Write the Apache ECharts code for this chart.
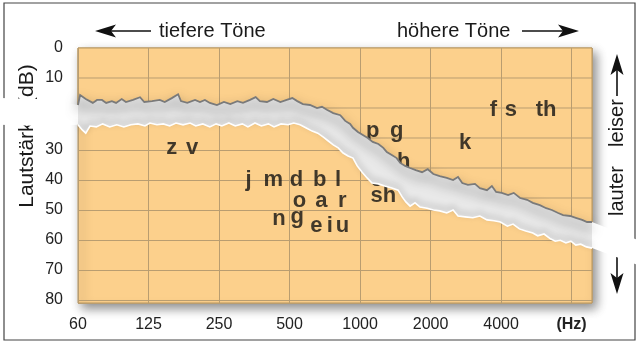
<!DOCTYPE html>
<html><head><meta charset="utf-8">
<script src="https://cdn.jsdelivr.net/npm/echarts@6/dist/echarts.min.js"></script>
<style>html,body{margin:0;padding:0;background:#fff}#c{width:640px;height:349px}</style>
</head><body><div id="c"></div>
<script>
const FONT = '"Liberation Sans", Arial, Helvetica, sans-serif';

// x axis: octave index (0 = 60 Hz, 1 = 125 Hz, ...)
const freqLabels = ['60', '125', '250', '500', '1000', '2000', '4000', '(Hz)'];
// y axis tick labels (dB, 0 at top)
const dbLabels = ['0', '10', '20', '30', '40', '50', '60', '70', '80'];

// The sheet is torn: the upper piece sits slightly higher than the lower piece.
// Upper edge of the tear (upper-piece scale)  [octave, dB]
const bandUpper = [[-1.11,16.7],[-0.54,17.0],[0,19.0],[0.03,15.7],[0.11,17.0],[0.21,18.3],[0.27,17.3],[0.34,17.3],[0.40,18.3],[0.48,17.7],[0.54,18.3],[0.62,17.0],[0.68,18.0],[0.78,17.3],[0.88,16.4],[0.94,18.0],[1.05,17.7],[1.16,17.3],[1.23,18.0],[1.33,16.7],[1.42,15.4],[1.46,17.7],[1.55,18.3],[1.66,17.3],[1.73,18.0],[1.80,17.3],[1.87,18.3],[1.97,19.0],[2.07,18.0],[2.16,18.7],[2.26,17.7],[2.34,18.3],[2.44,17.3],[2.52,16.4],[2.58,17.7],[2.68,18.0],[2.77,17.0],[2.87,18.0],[2.96,17.3],[3.04,16.7],[3.11,17.7],[3.19,18.7],[3.29,19.0],[3.39,20.0],[3.46,19.6],[3.53,20.6],[3.62,21.7],[3.72,22.4],[3.79,24.3],[3.86,25.3],[3.90,26.6],[3.97,28.0],[4.04,29.0],[4.11,30.0],[4.18,31.3],[4.26,32.0],[4.33,33.3],[4.38,34.7],[4.45,35.7],[4.52,36.7],[4.57,38.3],[4.64,39.3],[4.71,40.0],[4.79,40.7],[4.88,41.4],[4.96,40.4],[5.04,42.0],[5.13,42.7],[5.23,43.3],[5.32,44.0],[5.39,43.0],[5.45,45.0],[5.53,45.6],[5.63,45.3],[5.70,46.7],[5.80,47.4],[5.87,46.0],[5.93,48.0],[6.01,48.3],[6.10,49.0],[6.18,48.3],[6.27,50.0],[6.37,50.6],[6.45,51.6],[6.55,52.4],[6.64,53.4],[6.72,54.0],[6.81,55.0],[6.88,55.7],[6.98,56.0],[7.06,56.6],[7.15,57.3],[7.22,58.0],[7.29,58.0],[7.94,64.0]];

// Lower edge of the tear (same upper-piece scale)  [octave, dB]
const bandLower = [[-1.11,25.6],[-0.54,26.0],[0,25.6],[0.06,27.3],[0.11,28.4],[0.17,26.0],[0.26,26.3],[0.35,25.3],[0.45,26.3],[0.55,25.6],[0.65,26.3],[0.75,25.6],[0.85,25.3],[0.95,26.0],[1.02,25.0],[1.12,25.6],[1.21,25.3],[1.30,26.0],[1.39,25.0],[1.49,25.6],[1.59,25.0],[1.67,26.0],[1.77,25.3],[1.87,26.3],[1.96,25.3],[2.04,26.0],[2.14,25.0],[2.23,26.0],[2.33,25.3],[2.41,26.3],[2.51,25.0],[2.60,26.0],[2.70,25.3],[2.78,26.3],[2.88,25.3],[2.98,25.6],[3.06,25.0],[3.15,25.6],[3.23,26.6],[3.32,27.7],[3.40,28.4],[3.48,29.7],[3.55,31.0],[3.62,32.3],[3.69,33.3],[3.76,35.0],[3.83,36.0],[3.90,36.7],[3.96,39.3],[4.03,41.4],[4.10,43.3],[4.17,45.0],[4.26,45.3],[4.35,46.0],[4.45,46.7],[4.54,47.4],[4.60,49.7],[4.65,51.3],[4.71,52.7],[4.78,51.6],[4.85,53.0],[4.95,53.4],[5.04,54.0],[5.13,54.3],[5.23,55.0],[5.32,54.0],[5.39,56.0],[5.49,56.3],[5.60,56.6],[5.70,56.0],[5.80,57.3],[5.90,57.6],[5.99,58.0],[6.09,59.4],[6.17,58.7],[6.26,60.3],[6.35,61.0],[6.45,61.7],[6.52,62.6],[6.61,62.0],[6.70,63.6],[6.77,64.4],[6.84,64.1],[6.92,65.0],[6.99,64.4],[7.06,65.7],[7.13,65.4],[7.21,66.3],[7.29,66.7],[7.94,72.3]];

// speech sounds on the upper piece
const upperText = ['p', 'g', 'h', 'k', 'f', 's', 'th'];
const upperOct  = [4.18, 4.52, 4.62, 5.49, 5.89, 6.14, 6.64];
const upperDb   = [27.7, 27.7, 38.0, 31.7, 20.7, 20.7, 20.7];
// speech sounds on the lower piece
const lowerText = ['z','v','j','m','d','b','l','o','a','r','n','g','e','i','u','ch','sh'];
const lowerOct  = [1.33,1.62,2.42,2.77,3.10,3.43,3.69,3.14,3.45,3.75,2.85,3.11,3.38,3.57,3.75,4.33,4.33];
const lowerDb   = [29.3,29.3,40.0,40.0,40.0,40.0,40.0,47.0,47.0,47.0,53.0,52.3,55.3,55.3,55.3,40.0,45.3];

const XMAX = 7.29;
const ORANGE = '#fcd08c';
const GRIDC = '#b99d70';
const BORDER = '#b8975f';

const chart = echarts.init(document.getElementById('c'), null, {renderer: 'canvas'});

function txt(text, x, y, rot, align, size) {
  const el = {
    type: 'text', x: x, y: y, z: 1, silent: true,
    style: {
      text: text, fontSize: size || 20, fontFamily: FONT, fill: '#1a1a1a',
      align: align || 'left', textAlign: align || 'left',
      verticalAlign: 'middle', textVerticalAlign: 'middle'
    }
  };
  if (rot) el.rotation = rot;
  return el;
}

function tickIndex(v) {
  const i = Math.round(v / 10);
  return Math.abs(v - i * 10) > 1e-6 ? -1 : i;
}

const letterLabel = {
  show: true, position: 'inside', formatter: function (p) { return p.data[2]; },
  fontSize: 22, fontWeight: 'bold', color: '#111', fontFamily: FONT
};

const option = {
  backgroundColor: '#ffffff',
  animation: false,
  grid: [
    { // upper piece scale + whole sheet
      show: true, left: 78, right: 48, top: 48, height: 255,
      backgroundColor: ORANGE, borderColor: BORDER, borderWidth: 1,
      shadowBlur: 10, shadowColor: 'rgba(0,0,0,0.45)', shadowOffsetX: 4, shadowOffsetY: 5
    },
    { // lower piece scale
      show: false, left: 78, right: 48, top: 60, height: 243
    }
  ],
  xAxis: [
    {
      gridIndex: 0, type: 'value', min: 0, max: XMAX, interval: 1, z: 5,
      axisLine: {show: false}, axisTick: {show: false},
      splitLine: {show: true, lineStyle: {color: GRIDC, width: 1}},
      axisLabel: {
        margin: 14, fontSize: 16, color: '#222', fontFamily: FONT,
        formatter: function (v) {
          const i = Math.round(v);
          if (Math.abs(v - i) > 1e-6) return '';
          if (i === 7) return '{hz|' + freqLabels[7] + '}';
          return freqLabels[i] || '';
        },
        rich: {hz: {fontWeight: 'bold', fontSize: 16, color: '#222', fontFamily: FONT}}
      }
    },
    {
      gridIndex: 1, type: 'value', min: 0, max: XMAX, interval: 1, show: false,
      splitLine: {show: false}
    }
  ],
  yAxis: [
    {
      gridIndex: 0, type: 'value', inverse: true, min: 0, max: 85, interval: 10,
      axisLine: {show: false}, axisTick: {show: false}, splitLine: {show: false},
      axisLabel: {
        margin: 15, fontSize: 16, color: '#222', fontFamily: FONT,
        formatter: function (v) { const i = tickIndex(v); return (i >= 0 && i <= 1) ? dbLabels[i] : ''; }
      }
    },
    {
      gridIndex: 1, type: 'value', inverse: true, min: 0, max: 81, interval: 10,
      axisLine: {show: false}, axisTick: {show: false},
      splitLine: {show: true, lineStyle: {color: GRIDC, width: 1}},
      axisLabel: {
        margin: 15, fontSize: 16, color: '#222', fontFamily: FONT,
        formatter: function (v) { const i = tickIndex(v); return (i >= 3 && i < dbLabels.length) ? dbLabels[i] : ''; }
      }
    }
  ],
  graphic: {
    elements: [
      {type: 'rect', z: 1, silent: true, shape: {x: 4, y: 3, width: 631, height: 337},
       style: {fill: null, stroke: '#444', lineWidth: 1.2}},
      {type: 'line', z: 1, silent: true, shape: {x1: 108, y1: 31, x2: 151, y2: 31}, style: {stroke: '#111', lineWidth: 1.6}},
      {type: 'polygon', z: 1, silent: true, shape: {points: [[95, 31], [116, 24.5], [111, 31], [116, 37.5]]}, style: {fill: '#111'}},
      txt('tiefere Töne', 159, 31),
      txt('höhere Töne', 397, 31),
      {type: 'line', z: 1, silent: true, shape: {x1: 522, y1: 31, x2: 566, y2: 31}, style: {stroke: '#111', lineWidth: 1.6}},
      {type: 'polygon', z: 1, silent: true, shape: {points: [[579, 31], [558, 24.5], [563, 31], [558, 37.5]]}, style: {fill: '#111'}},
      txt('Lautstärke (dB)', 27, 136, Math.PI / 2, 'center', 21),
      {type: 'line', z: 1, silent: true, shape: {x1: 617, y1: 70, x2: 617, y2: 96}, style: {stroke: '#111', lineWidth: 1.6}},
      {type: 'polygon', z: 1, silent: true, shape: {points: [[617, 54], [610.5, 75], [617, 70], [623.5, 75]]}, style: {fill: '#111'}},
      txt('leiser', 617, 123, Math.PI / 2, 'center'),
      txt('lauter', 617, 191, Math.PI / 2, 'center'),
      {type: 'line', z: 1, silent: true, shape: {x1: 617, y1: 256, x2: 617, y2: 278}, style: {stroke: '#111', lineWidth: 1.6}},
      {type: 'polygon', z: 1, silent: true, shape: {points: [[617, 294], [610.5, 273], [617, 278], [623.5, 273]]}, style: {fill: '#111'}}
    ]
  },
  series: [
    { // upper piece of the sheet, with its own horizontal rulings
      type: 'custom', xAxisIndex: 0, yAxisIndex: 0, z: 4, silent: true, clip: false,
      data: [0],
      renderItem: function (params, api) {
        const cs = params.coordSys;
        const inner = bandUpper.filter(function (p) { return p[0] >= 0 && p[0] <= XMAX; })
                               .map(function (p) { return api.coord(p); });
        const right = cs.x + cs.width;
        const poly = [[cs.x, cs.y], [right, cs.y]].concat(inner.slice().reverse());
        const children = [{type: 'polygon', shape: {points: poly}, style: {fill: ORANGE}}];
        dbLabels.forEach(function (lab) {
          const v = Number(lab);
          if (v === 0) return;
          const y0 = api.coord([0, v])[1];
          let runs = [];
          for (let i = 0; i < inner.length - 1; i++) {
            const a = inner[i], b = inner[i + 1];
            const ina = a[1] > y0, inb = b[1] > y0;
            if (!ina && !inb) continue;
            let x1 = a[0], x2 = b[0];
            if (ina !== inb) {
              const t = (y0 - a[1]) / (b[1] - a[1]);
              const xc = a[0] + t * (b[0] - a[0]);
              if (ina) x2 = xc; else x1 = xc;
            }
            if (runs.length && Math.abs(runs[runs.length - 1][1] - x1) < 0.01) runs[runs.length - 1][1] = x2;
            else runs.push([x1, x2]);
          }
          runs.forEach(function (r) {
            children.push({type: 'line', shape: {x1: r[0], y1: y0, x2: r[1], y2: y0},
                           style: {stroke: GRIDC, lineWidth: 1}});
          });
        });
        children.push({type: 'polyline',
          shape: {points: [inner[0], [cs.x, cs.y], [right, cs.y], inner[inner.length - 1]]},
          style: {fill: null, stroke: BORDER, lineWidth: 1}});
        return {type: 'group', children: children};
      }
    },
    {
      type: 'scatter', xAxisIndex: 1, yAxisIndex: 1, z: 6, silent: true,
      symbolSize: 1, itemStyle: {color: 'rgba(0,0,0,0)'},
      data: lowerText.map(function (t, i) { return [lowerOct[i], lowerDb[i], t]; }),
      label: letterLabel, emphasis: {disabled: true}
    },
    {
      type: 'scatter', xAxisIndex: 0, yAxisIndex: 0, z: 6, silent: true,
      symbolSize: 1, itemStyle: {color: 'rgba(0,0,0,0)'},
      data: upperText.map(function (t, i) { return [upperOct[i], upperDb[i], t]; }),
      label: letterLabel, emphasis: {disabled: true}
    },
    { // the tear
      type: 'custom', xAxisIndex: 0, yAxisIndex: 0, z: 10, silent: true, clip: false,
      data: [0],
      renderItem: function (params, api) {
        const inside = function (p) { return p[0] >= 0 && p[0] <= XMAX; };
        const upAll = bandUpper.map(function (p) { return api.coord(p); });
        const loAll = bandLower.map(function (p) { return api.coord(p); });
        const up = bandUpper.filter(inside).map(function (p) { return api.coord(p); });
        const lo = bandLower.filter(inside).map(function (p) { return api.coord(p); });
        return {
          type: 'group',
          children: [
            {type: 'polygon', shape: {points: upAll.concat(loAll.slice().reverse())}, style: {fill: '#ffffff'}},
            {type: 'polygon', shape: {points: up.concat(lo.slice().reverse())}, style: {fill: '#e9e9e9'}},
            {type: 'polyline', shape: {points: lo},
             style: {fill: null, stroke: '#ffffff', lineWidth: 1.6, shadowColor: 'rgba(0,0,0,0.35)', shadowBlur: 6, shadowOffsetY: -3}},
            {type: 'polyline', shape: {points: up},
             style: {fill: null, stroke: '#7a7a7a', lineWidth: 1.8, shadowColor: 'rgba(0,0,0,0.75)', shadowBlur: 12, shadowOffsetY: 6}}
          ]
        };
      }
    }
  ]
};
chart.setOption(option);
</script>
</body></html>
